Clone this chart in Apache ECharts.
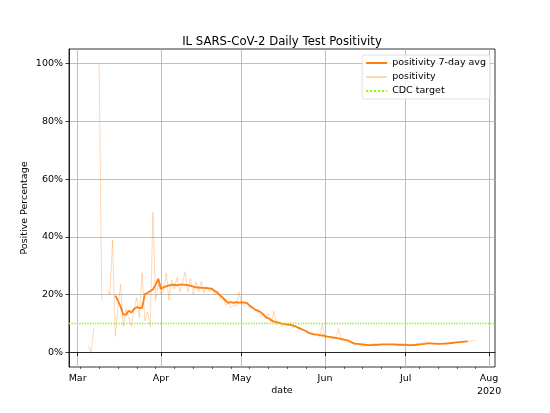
<!DOCTYPE html>
<html>
<head>
<meta charset="utf-8">
<script src="https://cdn.jsdelivr.net/npm/echarts@6/dist/echarts.min.js"></script>
<style>
  html, body { margin: 0; padding: 0; background: #fff; }
  #chart { width: 550px; height: 413px; }
</style>
</head>
<body>
<div id="chart"></div>
<script>
// daily values start on this date, one entry per day
var firstDay = [2020, 2, 5];

// daily test positivity (%), null = no report
var positivity = [
    2.5, 0, 8.5, null, 100, 18, null,
    21.8, 20, 39, 5.6, 16, 23.5, 9, 15, 12, 9, 15, 19, 12, 27.6, 11, 14, 9, 48.5, 18, 24, 20,
    21, 27.5, 18, 25, 22, 26, 21, 24, 28, 21, 25.5, 20, 24.5, 21, 24.5, 20.5, 23, 21, 22.5, 20,
    21.5, 18.5, 19.5, 16.5, 17, 15.5, 16.5, 16, 21,
    17, 16, 17.5, 15.5, 16, 14.5, 14, 12.5, 13.5, 11.5, 13.5, 10.5, 14.3, 9.5, 10.5, 9, 10.5,
    9.5, 10.5, 8.5, 9.5, 8, 8.5, 7.5, 7.5, 6.5, 6.8, 6, 6.5, 5.5,
    9.7, 5, 5.5, 5, 4.8, 5.2, 8.2, 4.2, 4.5, 3.8, 3.5, 3.2, 2.8, 2.9, 2.6, 2.0, 2.4, 2.6, 2.5,
    2.9, 2.6, 2.8, 2.7, 3.0, 2.7, 2.9, 2.8, 2.6, 2.8, 2.7,
    2.5, 2.8, 2.6, 2.5, 2.7, 2.9, 2.7, 3.3, 3.9, 3.1, 3.4, 2.9, 3.2, 2.8, 3.1, 3.0, 3.3, 3.2,
    3.5, 3.3, 3.6, 3.5, 3.9, 3.7, 4.0, 3.9, 4.1, 4.3
];

// centred 7-day average (%), same dates
var positivityAvg = [
    null, null, null, null, null, null, null, null, null, null,
    19.7, 18.0, 15.8, 13.1, 13.1, 14.5, 13.8, 15.1, 15.7, 15.4, 15.5, 20.2, 20.6, 21.3, 21.8,
    23.5, 25.5, 22.0,
    22.6, 22.9, 23.2, 23.4, 23.5, 23.2, 23.5, 23.5, 23.4, 23.3, 23.1, 22.8, 22.5, 22.5, 22.4,
    22.4, 22.3, 22.2, 22.0, 21.3, 20.6, 19.8, 18.9, 18.0, 17.2, 17.4, 17.2, 17.4, 17.3,
    17.4, 17.3, 17.1, 16.2, 15.5, 14.9, 14.5, 14.0, 13.2, 12.3, 11.8, 11.2, 10.7, 10.5, 10.3,
    10.0, 9.8, 9.7, 9.6, 9.4, 9.0, 8.6, 8.2, 7.8, 7.4, 6.8, 6.5, 6.3, 6.2, 6.0,
    5.9, 5.7, 5.5, 5.4, 5.2, 5.1, 4.9, 4.7, 4.5, 4.3, 4.0, 3.5, 3.1, 3.0, 2.9, 2.8, 2.7, 2.6,
    2.6, 2.7, 2.7, 2.7, 2.8, 2.8, 2.8, 2.8, 2.8, 2.8, 2.7, 2.7,
    2.7, 2.7, 2.6, 2.6, 2.6, 2.7, 2.8, 2.9, 3.0, 3.2, 3.2, 3.1, 3.1, 3.0, 3.0, 3.1, 3.1, 3.2,
    3.3, 3.4, 3.5, 3.6, 3.7, 3.8, 3.9,
    null, null, null
];

var cdcTarget = 10;

var monthLabels = ['Mar', 'Apr', 'May', 'Jun', 'Jul', 'Aug'];
var yTicks = [0, 20, 40, 60, 80, 100];

var DAY = 86400000;
var start = new Date(firstDay[0], firstDay[1], firstDay[2]).getTime();
var mar1 = new Date(2020, 2, 1).getTime();

function dateOf(i) { return start + i * DAY; }

var rawData = positivity.map(function (v, i) { return [dateOf(i), v]; });
var avgData = positivityAvg.map(function (v, i) { return [dateOf(i), v]; });

var monthTicks = monthLabels.map(function (m, i) { return new Date(2020, 2 + i, 1).getTime(); });
// Mondays for the minor ticks
var weekTicks = [];
for (var t = new Date(2020, 2, 2).getTime(); t < new Date(2020, 7, 3).getTime(); t += 7 * DAY) {
    weekTicks.push(t);
}

var xMin = mar1 - 3.2 * DAY;
var xMax = mar1 + 155.2 * DAY;

var font = 'DejaVu Sans';
var orange = '#ff7f0e';
var green = '#7fff00';

var myChart = echarts.init(document.getElementById('chart'));

var option = {
    animation: false,
    textStyle: { fontFamily: font },
    title: {
        text: 'IL SARS-CoV-2 Daily Test Positivity',
        left: 277,
        top: 31,
        textAlign: 'center',
        textStyle: { fontFamily: font, fontSize: 11.7, fontWeight: 'normal', color: '#000' }
    },
    legend: {
        orient: 'vertical',
        right: 60,
        top: 55,
        padding: [3, 4, 3, 3],
        itemWidth: 21,
        itemHeight: 10,
        itemGap: 4,
        backgroundColor: 'rgba(255,255,255,0.8)',
        borderColor: '#d8d8d8',
        borderWidth: 0.8,
        borderRadius: 2,
        itemStyle: { opacity: 0 },
        textStyle: { fontFamily: font, fontSize: 9.5, color: '#000' },
        data: ['positivity 7-day avg', 'positivity', 'CDC target']
    },
    grid: {
        left: 69, right: 55, top: 49, bottom: 46,
        outerBoundsMode: 'none',
        show: true, borderColor: '#000', borderWidth: 0.8
    },
    xAxis: [{
        type: 'value',
        min: xMin,
        max: xMax,
        name: 'date',
        nameLocation: 'middle',
        nameGap: 19,
        nameMoveOverlap: false,
        nameTextStyle: { fontFamily: font, fontSize: 9.5, color: '#000' },
        axisLine: { lineStyle: { color: '#000', width: 0.8 } },
        axisTick: { customValues: monthTicks, length: 3.5, lineStyle: { color: '#000', width: 0.8 } },
        axisLabel: {
            customValues: monthTicks,
            margin: 5,
            lineHeight: 13,
            verticalAlign: 'top',
            fontFamily: font, fontSize: 9.5, color: '#000',
            formatter: function (v) {
                var m = new Date(v).getMonth();
                return monthLabels[m - 2] + (m === 7 ? '\n2020' : '');
            }
        },
        splitLine: { show: true, lineStyle: { color: '#b0b0b0', width: 0.8 } }
    }, {
        type: 'value',
        min: xMin,
        max: xMax,
        position: 'bottom',
        axisLine: { show: false },
        axisTick: { customValues: weekTicks, length: 2, lineStyle: { color: '#000', width: 0.6 } },
        axisLabel: { show: false },
        splitLine: { show: false }
    }],
    yAxis: {
        type: 'value',
        min: -5,
        max: 105,
        name: 'Positive Percentage',
        nameLocation: 'middle',
        nameGap: 39,
        nameMoveOverlap: false,
        nameTextStyle: { fontFamily: font, fontSize: 9.5, color: '#000' },
        axisLine: { show: true, lineStyle: { color: '#000', width: 0.8 } },
        axisTick: { show: true, customValues: yTicks, length: 3.5, lineStyle: { color: '#000', width: 0.8 } },
        axisLabel: {
            customValues: yTicks,
            margin: 6,
            fontFamily: font, fontSize: 9.5, color: '#000',
            formatter: function (v) { return v + '%'; }
        },
        splitLine: { show: true, lineStyle: { color: '#b0b0b0', width: 0.8 } }
    },
    series: [
        {
            name: 'positivity 7-day avg',
            type: 'line',
            data: avgData,
            symbol: 'none',
            z: 4,
            itemStyle: { color: orange },
            lineStyle: { color: orange, width: 1.8 }
        },
        {
            name: 'positivity',
            type: 'line',
            data: rawData,
            symbol: 'none',
            z: 3,
            itemStyle: { color: 'rgba(255,127,14,0.3)' },
            lineStyle: { color: 'rgba(255,127,14,0.3)', width: 1 }
        },
        {
            name: 'CDC target',
            type: 'line',
            data: [],
            symbol: 'none',
            z: 2,
            itemStyle: { color: green },
            lineStyle: { color: green, width: 1.3, type: 'dotted' },
            markLine: {
                silent: true,
                symbol: 'none',
                label: { show: false },
                lineStyle: { color: green, width: 1.3, type: 'dotted' },
                data: [{ yAxis: cdcTarget }]
            }
        }
    ]
};

myChart.setOption(option);
</script>
</body>
</html>
